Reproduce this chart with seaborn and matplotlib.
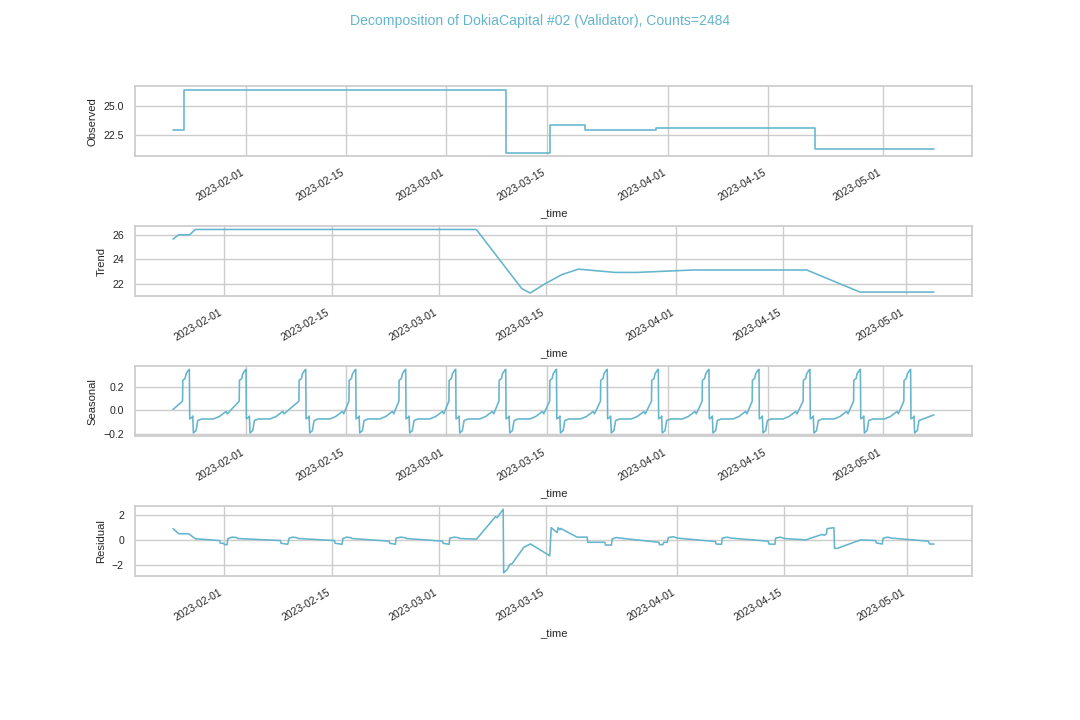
"""
Seasonal decomposition of a validator's counts (observed / trend / seasonal / residual)
"""
import pandas as pd
import matplotlib

matplotlib.use("Agg")
import matplotlib.pyplot as plt
import seaborn as sns

# ===================== 1. 数据（x 为距 2023-02-01 的天数） =====================
base_date = pd.Timestamp("2023-02-01")
title = "Decomposition of DokiaCapital #02 (Validator), Counts=2484"
line_color = "#64b5cd"

# Observed: step changes
obs_day = [-10.2, -8.62, 36.33, 42.48, 47.37, 57.29, 79.45, 96.13]
obs_val = [23.0, 26.45, 20.97, 23.36, 22.93, 23.16, 21.32, 21.32]

# Trend: vertices
trend_day = [-6.69, -5.96, -4.53, -3.78, 32.9, 38.85, 39.93, 41.89, 44.07, 46.23,
             51.02, 53.86, 61.24, 76.04, 83.0, 92.65]
trend_val = [25.67, 26.03, 26.03, 26.47, 26.47, 21.59, 21.23, 22.0, 22.75, 23.2,
             22.93, 22.93, 23.13, 23.13, 21.31, 21.31]

# Seasonal: peak of each cycle + one cycle shape (offset days from peak)
season_peak_day = [-7.92, 0.0, 8.34, 15.33, 22.31, 29.3, 36.29, 43.38, 50.48,
                   57.61, 64.69, 71.68, 78.8, 85.85, 92.87]
season_shape_off = [-0.95, -0.92, -0.6, -0.46, -0.14, 0.0, 0.05, 0.4, 0.47, 0.56,
                    0.93, 1.17, 1.73, 3.35, 4.19, 5.12, 5.31]
season_shape_val = [0.077, 0.254, 0.27, 0.31, 0.34, 0.348, -0.074, -0.06, -0.05, -0.194,
                    -0.174, -0.088, -0.075, -0.075, -0.054, -0.011, -0.031]
season_start_val = 0.006
season_end_val = -0.04

# Residual: vertices
resid_day = [-6.70, -5.96, -4.65, -3.78, -0.61, -0.52, -0.09, 0.0, 0.35, 0.43,
             1.0, 1.57, 1.74, 7.31, 7.39, 8.26, 8.44, 8.96, 9.49, 9.66,
             14.35, 14.45, 15.36, 15.45, 16.0, 16.52, 16.65, 21.49, 21.58, 22.31,
             22.40, 22.97, 23.62, 23.75, 28.45, 28.54, 29.32, 29.40, 30.01, 30.58,
             30.71, 32.89, 35.36, 35.57, 36.37, 36.43, 36.89, 37.24, 37.54, 39.06,
             39.93, 42.45, 42.63, 43.41, 43.54, 43.76, 43.87, 44.09, 46.02, 47.32,
             47.41, 49.63, 49.72, 50.5, 50.59, 51.11, 51.68, 56.68, 56.77, 57.2,
             57.33, 57.77, 57.92, 58.58, 59.14, 64.07, 64.16, 64.86, 64.95, 65.6,
             66.16, 70.95, 71.04, 71.82, 71.91, 72.52, 73.1, 75.82, 78.0, 78.22,
             78.55, 78.64, 79.52, 79.6, 79.93, 83.0, 84.97, 85.06, 85.82, 85.95,
             86.55, 87.07, 91.83, 92.0, 92.57]
resid_val = [0.92, 0.51, 0.51, 0.11, -0.03, -0.25, -0.25, -0.36, -0.36, 0.11,
             0.24, 0.21, 0.13, -0.03, -0.25, -0.33, 0.16, 0.24, 0.19, 0.13,
             -0.03, -0.25, -0.33, 0.13, 0.24, 0.19, 0.13, -0.08, -0.25, -0.33,
             0.16, 0.24, 0.19, 0.13, -0.08, -0.25, -0.33, 0.16, 0.24, 0.19,
             0.13, 0.08, 1.87, 1.79, 2.47, -2.61, -2.35, -1.94, -1.88, -0.57,
             -0.30, -1.25, 1.0, 0.6, 1.0, 0.84, 0.94, 0.86, 0.24, 0.24,
             -0.17, -0.17, -0.39, -0.39, 0.1, 0.21, 0.16, -0.17, -0.36, -0.36,
             -0.17, -0.17, 0.21, 0.27, 0.16, -0.11, -0.31, -0.33, 0.16, 0.24,
             0.16, -0.08, -0.31, -0.33, 0.16, 0.24, 0.13, 0.02, 0.46, 0.38,
             0.51, 0.92, 1.0, -0.66, -0.66, 0.02, -0.03, -0.22, -0.31, 0.16,
             0.24, 0.16, -0.08, -0.31, -0.31]

# ===================== 2. 季节项顶点 =====================
seas_day = [obs_day[0]]
seas_val = [season_start_val]
for peak in season_peak_day:
    for off, v in zip(season_shape_off, season_shape_val):
        if peak + off < obs_day[-1]:
            seas_day.append(peak + off)
            seas_val.append(v)
seas_day.append(obs_day[-1])
seas_val.append(season_end_val)


def to_time(days):
    return base_date + pd.to_timedelta(days, unit="D")


panels = [
    ("Observed", obs_day, obs_val, "steps-post"),
    ("Trend", trend_day, trend_val, "default"),
    ("Seasonal", seas_day, seas_val, "default"),
    ("Residual", resid_day, resid_val, "default"),
]

# ===================== 3. 绘图 =====================
sns.set_theme(style="whitegrid")
plt.rcParams["font.family"] = ["Liberation Sans", "DejaVu Sans"]

fig, axes = plt.subplots(4, 1, figsize=(10.8, 7.2), dpi=100)
fig.subplots_adjust(left=0.125, right=0.9, top=0.88, bottom=0.2, hspace=1.0)

for ax, (name, days, vals, style) in zip(axes, panels):
    df = pd.DataFrame({"_time": to_time(days), name: vals})
    sns.lineplot(data=df, x="_time", y=name, ax=ax, color=line_color,
                 linewidth=1.15, estimator=None, sort=False, drawstyle=style)
    ax.set_xlabel("_time", fontsize=8.1)
    ax.set_ylabel(name, fontsize=8.1)
    ax.tick_params(axis="both", labelsize=7.6, pad=2)
    plt.setp(ax.get_xticklabels(), rotation=30, ha="right")

fig.suptitle(title, color=line_color, fontsize=10.1)
fig.savefig("out.png", dpi=100)
plt.close(fig)
